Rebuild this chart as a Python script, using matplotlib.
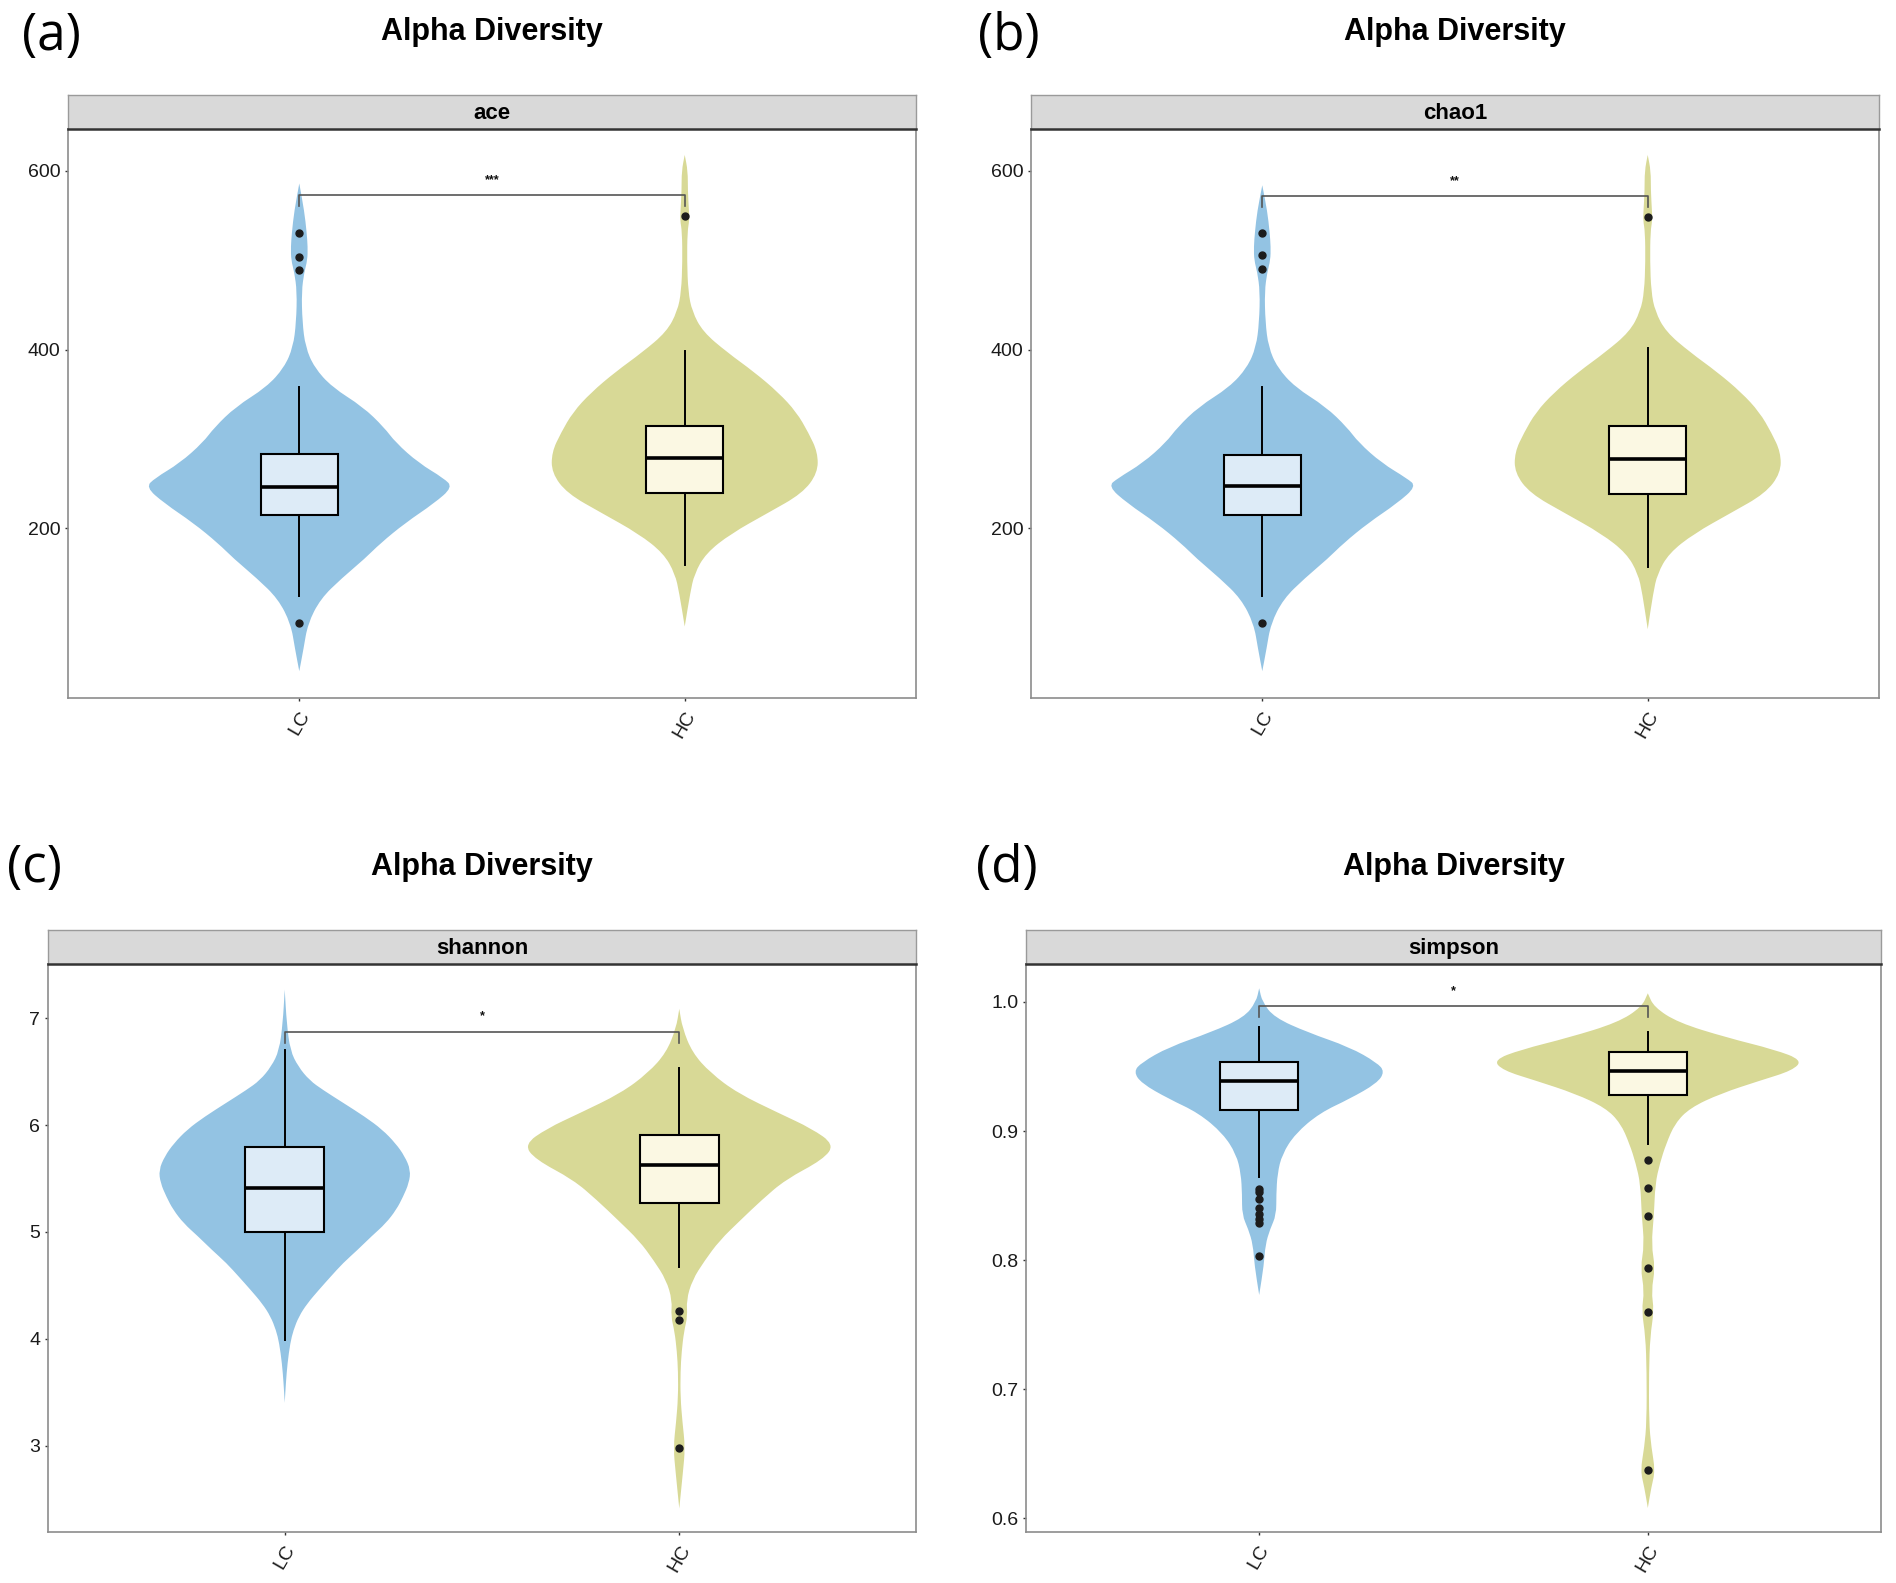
import matplotlib
matplotlib.use('Agg')
import matplotlib.pyplot as plt
from matplotlib.path import Path
from matplotlib.patches import PathPatch

# 画布尺寸(像素)
W, H = 1896, 1583

groups = ['LC', 'HC']

# 箱线图数据: 下须, 下四分位, 中位数, 上四分位, 上须
ace_box_lc = [124, 215, 246, 283, 358]
ace_box_hc = [159, 239, 279, 315, 399]
ace_out_lc = [531, 504, 489, 94]
ace_out_hc = [550]
chao1_box_lc = [124, 215, 247, 282, 358]
chao1_box_hc = [157, 238, 278, 315, 402]
chao1_out_lc = [531, 506, 490, 94]
chao1_out_hc = [549]
shannon_box_lc = [3.99, 4.998, 5.413, 5.80, 6.70]
shannon_box_hc = [4.67, 5.27, 5.63, 5.905, 6.535]
shannon_out_lc = []
shannon_out_hc = [4.26, 4.18, 2.98]
simpson_box_lc = [0.8647, 0.9161, 0.9388, 0.9537, 0.9804]
simpson_box_hc = [0.890, 0.9282, 0.9463, 0.9616, 0.9765]
simpson_out_lc = [0.855, 0.853, 0.847, 0.840, 0.836, 0.832, 0.829, 0.803]
simpson_out_hc = [0.8773, 0.856, 0.8345, 0.7937, 0.760, 0.6376]

# 小提琴轮廓: 纵坐标 与 半宽(x轴单位)
ace_vy_lc = [586, 555, 532, 515, 500, 487, 465, 431, 403, 380, 358, 336, 313, 296,
             273, 256, 246, 228, 206, 183, 166, 144, 121, 93, 65, 40]
ace_vw_lc = [0, .013, .019, .022, .021, .013, .006, .008, .016, .039, .085, .165, .220, .250,
             .310, .375, .398, .350, .275, .210, .170, .110, .055, .022, .011, 0]
ace_vy_hc = [618, 600, 578, 555, 545, 532, 499, 465, 443, 420, 397, 375, 352, 330,
             307, 285, 262, 239, 217, 194, 172, 149, 127, 90]
ace_vw_hc = [0, .008, .008, .011, .012, .007, .006, .009, .019, .047, .11, .18, .243, .29,
             .321, .345, .345, .305, .215, .120, .055, .025, .014, 0]
chao1_vy_lc = [584, 555, 532, 515, 500, 487, 465, 431, 403, 380, 358, 336, 313, 296,
               273, 256, 247, 228, 206, 183, 166, 144, 121, 93, 65, 40]
chao1_vw_lc = [0, .013, .019, .022, .021, .013, .006, .008, .016, .039, .085, .165, .220, .250,
               .310, .375, .400, .350, .275, .210, .170, .110, .055, .022, .011, 0]
chao1_vy_hc = [618, 600, 578, 555, 545, 532, 499, 465, 443, 420, 397, 375, 352, 330,
               307, 285, 262, 239, 217, 194, 172, 149, 127, 87]
chao1_vw_hc = [0, .008, .008, .011, .012, .007, .006, .009, .019, .047, .11, .18, .243, .29,
               .321, .345, .345, .305, .215, .120, .055, .025, .014, 0]
shannon_vy_lc = [7.27, 6.955, 6.70, 6.55, 6.42, 6.33, 6.21, 6.08, 5.96, 5.83, 5.71, 5.58,
                 5.46, 5.33, 5.21, 5.08, 4.96, 4.83, 4.71, 4.58, 4.46, 4.33, 4.21, 4.08,
                 3.96, 3.77, 3.59, 3.40]
shannon_vw_lc = [0, .005, .014, .034, .063, .097, .148, .203, .247, .281, .304, .319,
                 .315, .300, .283, .256, .220, .184, .148, .116, .087, .057, .036, .022,
                 .014, .007, .003, 0]
shannon_vy_hc = [7.09, 6.91, 6.68, 6.49, 6.30, 6.11, 5.97, 5.82, 5.68, 5.49, 5.30, 5.11,
                 4.92, 4.73, 4.55, 4.36, 4.21, 4.07, 3.88, 3.69, 3.45, 3.22, 2.98, 2.74, 2.41]
shannon_vw_hc = [0, .008, .033, .079, .148, .254, .335, .393, .365, .269, .209, .155,
                 .102, .064, .033, .018, .021, .012, .006, .003, .003, .008, .015, .009, 0]
simpson_vy_lc = [1.0106, 1.0, 0.988, 0.9765, 0.965, 0.953, 0.946, 0.937, 0.925, 0.914,
                 0.898, 0.882, 0.867, 0.851, 0.835, 0.824, 0.812, 0.796, 0.773]
simpson_vw_lc = [0, .008, .039, .124, .233, .303, .323, .303, .233, .156,
                 .093, .059, .047, .044, .044, .028, .016, .012, 0]
simpson_vy_hc = [1.0067, 0.996, 0.984, 0.9725, 0.963, 0.955, 0.947, 0.939, 0.929, 0.918,
                 0.906, 0.890, 0.875, 0.859, 0.835, 0.812, 0.794, 0.776, 0.761, 0.741,
                 0.714, 0.675, 0.655, 0.637, 0.624, 0.608]
simpson_vw_hc = [0, .016, .078, .202, .327, .397, .373, .288, .187, .109,
                 .070, .047, .031, .019, .016, .009, .019, .009, .016, .006,
                 .003, .003, .009, .019, .009, 0]

# 显著性标记: 横线高度, 端点下沿, 文字高度, 文字
ace_sig = [573, 561, 590, '***']
chao1_sig = [572, 560, 589, '**']
shannon_sig = [6.877, 6.77, 7.02, '*']
simpson_sig = [0.9970, 0.988, 1.0086, '*']

# 坐标轴范围与刻度
ace_ylim = (10, 647)
shannon_ylim = (2.19, 7.51)
simpson_ylim = (0.5894, 1.0294)
ace_ticks = [200, 400, 600]
shannon_ticks = [3, 4, 5, 6, 7]
simpson_ticks = [0.6, 0.7, 0.8, 0.9, 1.0]
simpson_ticklabels = ['0.6', '0.7', '0.8', '0.9', '1.0']

violin_colors = ['#93C3E3', '#D8D996']
box_colors = ['#DDEBF7', '#FBF8E3']

plt.rcParams['font.family'] = ['Liberation Sans', 'DejaVu Sans']


def violin_patch(ax, x0, ys, ws, color):
    # 用二次贝塞尔平滑小提琴轮廓
    right = [(x0 + w, y) for y, w in zip(ys, ws)]
    left = [(x0 - w, y) for y, w in zip(ys, ws)][::-1]
    verts, codes = [], []

    def mid(a, b):
        return ((a[0] + b[0]) / 2, (a[1] + b[1]) / 2)

    for k, side in enumerate([right, left]):
        verts.append(side[0])
        codes.append(Path.MOVETO if k == 0 else Path.LINETO)
        verts.append(mid(side[0], side[1]))
        codes.append(Path.LINETO)
        for i in range(1, len(side) - 1):
            verts += [side[i], mid(side[i], side[i + 1])]
            codes += [Path.CURVE3, Path.CURVE3]
        verts.append(side[-1])
        codes.append(Path.LINETO)
    verts.append(verts[0])
    codes.append(Path.CLOSEPOLY)
    ax.add_patch(PathPatch(Path(verts, codes), facecolor=color, edgecolor='none', zorder=1))


def draw_panel(fig, box, strip_name, boxes, outs, vys, vws, sig, ylim, ticks, ticklabels):
    left, right, top, bottom = box
    ax = fig.add_axes([left / W, 1 - bottom / H, (right - left) / W, (bottom - top) / H])
    # 小提琴
    for i in range(2):
        violin_patch(ax, i + 1, vys[i], vws[i], violin_colors[i])
    # 箱线图
    for i in range(2):
        b = boxes[i]
        stats = [{'whislo': b[0], 'q1': b[1], 'med': b[2], 'q3': b[3], 'whishi': b[4],
                  'fliers': outs[i]}]
        ax.bxp(stats, positions=[i + 1], widths=0.2, patch_artist=True, showcaps=False,
               manage_ticks=False, zorder=3,
               boxprops=dict(facecolor=box_colors[i], edgecolor='black', linewidth=1.5),
               medianprops=dict(color='black', linewidth=2.6),
               whiskerprops=dict(color='black', linewidth=1.4),
               flierprops=dict(marker='o', markerfacecolor='#1c1c1c', markeredgecolor='#1c1c1c',
                               markersize=5))
    # 显著性横线
    ax.plot([1, 1, 2, 2], [sig[1], sig[0], sig[0], sig[1]], color='#555555', lw=1.2, zorder=4)
    ax.text(1.5, sig[2], sig[3], ha='center', va='center', fontsize=9, fontweight='bold',
            color='#111111', zorder=5)

    ax.set_xlim(0.4, 2.6)
    ax.set_ylim(*ylim)
    ax.set_xticks([1, 2])
    ax.set_xticklabels(groups, rotation=60, ha='center', va='top', fontsize=14, color='#1a1a1a')
    ax.set_yticks(ticks)
    ax.set_yticklabels(ticklabels, fontsize=14, color='#1a1a1a')
    ax.tick_params(axis='both', length=2.5, width=1, color='#333333')
    ax.tick_params(axis='y', pad=3)
    ax.tick_params(axis='x', pad=5)
    for s in ax.spines.values():
        s.set_color('#8c8c8c')
        s.set_linewidth(1.2)

    # 分面标签条
    sax = fig.add_axes([left / W, 1 - top / H, (right - left) / W, 34 / H])
    sax.set_facecolor('#D9D9D9')
    sax.set_xticks([])
    sax.set_yticks([])
    for s in sax.spines.values():
        s.set_color('#9a9a9a')
        s.set_linewidth(1.0)
    sax.spines['bottom'].set_color('#333333')
    sax.spines['bottom'].set_linewidth(1.8)
    sax.text(0.5, 0.47, strip_name, ha='center', va='center', fontsize=16, fontweight='bold',
             transform=sax.transAxes)

    # 标题
    fig.text((left + right) / 2 / W, 1 - (top - 97) / H, 'Alpha Diversity', ha='center', va='center',
             fontsize=22, fontweight='bold')
    return ax


fig = plt.figure(figsize=(W / 100, H / 100), dpi=100)

draw_panel(fig, (68, 916, 129, 698), 'ace', [ace_box_lc, ace_box_hc], [ace_out_lc, ace_out_hc],
           [ace_vy_lc, ace_vy_hc], [ace_vw_lc, ace_vw_hc], ace_sig, ace_ylim, ace_ticks,
           [str(t) for t in ace_ticks])
draw_panel(fig, (1031, 1879, 129, 698), 'chao1', [chao1_box_lc, chao1_box_hc],
           [chao1_out_lc, chao1_out_hc], [chao1_vy_lc, chao1_vy_hc], [chao1_vw_lc, chao1_vw_hc],
           chao1_sig, ace_ylim, ace_ticks, [str(t) for t in ace_ticks])
draw_panel(fig, (48, 916, 964, 1532), 'shannon', [shannon_box_lc, shannon_box_hc],
           [shannon_out_lc, shannon_out_hc], [shannon_vy_lc, shannon_vy_hc],
           [shannon_vw_lc, shannon_vw_hc], shannon_sig, shannon_ylim, shannon_ticks,
           [str(t) for t in shannon_ticks])
draw_panel(fig, (1026, 1881, 964, 1532), 'simpson', [simpson_box_lc, simpson_box_hc],
           [simpson_out_lc, simpson_out_hc], [simpson_vy_lc, simpson_vy_hc],
           [simpson_vw_lc, simpson_vw_hc], simpson_sig, simpson_ylim, simpson_ticks,
           simpson_ticklabels)

# 子图编号
for lab, x, y in [('(a)', 22, 36), ('(b)', 978, 36), ('(c)', 7, 868), ('(d)', 976, 868)]:
    fig.text(x / W, 1 - y / H, lab, ha='left', va='center', fontsize=37, family='Open Sans')

fig.savefig('out.png', dpi=100)
